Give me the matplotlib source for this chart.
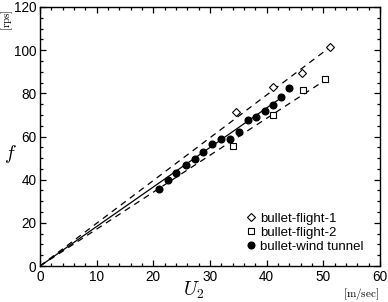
import numpy as np
import matplotlib.pyplot as plt

plt.rcParams['mathtext.fontset'] = 'cm'
plt.rcParams['font.family'] = ['Liberation Sans', 'DejaVu Sans']

# bullet-flight-1 (open diamonds)
u_flight1 = [34.6, 41.2, 46.3, 51.2]
f_flight1 = [71.5, 83.0, 89.3, 101.5]

# bullet-flight-2 (open squares)
u_flight2 = [34.1, 41.1, 46.4, 50.3]
f_flight2 = [55.8, 70.1, 81.4, 86.8]

# bullet-wind tunnel (filled circles)
u_tunnel = [21.0, 22.6, 24.1, 25.8, 27.4, 28.8, 30.4, 32.0, 33.5, 35.1, 36.8, 38.2, 39.7, 41.2, 42.5, 44.0]
f_tunnel = [35.8, 39.7, 43.1, 46.9, 49.7, 52.6, 56.7, 58.7, 58.7, 62.3, 67.5, 69.0, 72.0, 74.6, 78.3, 82.6]

# fitted lines through origin: (slope, end of line)
fit_flight1 = (1.98, 52.0)
fit_flight2 = (1.71, 51.0)
fit_tunnel = (1.83, 43.0)

fig = plt.figure(figsize=(3.88, 3.02), dpi=100)
ax = fig.add_axes([0.103, 0.119, 0.876, 0.858])

for slope, x_end, ls in [(fit_flight1[0], fit_flight1[1], (0, (5, 4))),
                         (fit_flight2[0], fit_flight2[1], (0, (5, 4))),
                         (fit_tunnel[0], fit_tunnel[1], '-')]:
    xx = np.array([0, x_end])
    ax.plot(xx, slope * xx, color='black', lw=0.9, linestyle=ls)

ax.plot(u_flight1, f_flight1, linestyle='none', marker='D', ms=4, mfc='white', mec='black', mew=0.8,
        label='bullet-flight-1')
ax.plot(u_flight2, f_flight2, linestyle='none', marker='s', ms=4.3, mfc='white', mec='black', mew=0.8,
        label='bullet-flight-2')
ax.plot(u_tunnel, f_tunnel, linestyle='none', marker='o', ms=4.8, mfc='black', mec='black',
        label='bullet-wind tunnel')

ax.set_xlim(0, 60)
ax.set_ylim(0, 120)
ax.set_xticks(np.arange(0, 61, 10))
ax.set_yticks(np.arange(0, 121, 20))
ax.set_xticks(np.arange(0, 61, 2), minor=True)
ax.set_yticks(np.arange(0, 121, 5), minor=True)
ax.tick_params(which='both', direction='in', top=True, right=True, labelsize=9.8, width=0.9, pad=2.5)
ax.tick_params(which='major', length=4)
ax.tick_params(which='minor', length=2)
for sp in ax.spines.values():
    sp.set_linewidth(1.0)

fig.text(0.027, 0.49, r'$f$', fontsize=14, ha='center', va='center')
fig.text(0.02, 0.935, r'$[\mathrm{rps}]$', fontsize=8, ha='center', va='center', rotation=90)
fig.text(0.5, 0.04, r'$U_2$', fontsize=14, ha='center', va='center')
fig.text(0.93, 0.028, r'$[\mathrm{m/sec}]$', fontsize=8, ha='center', va='center')

ax.legend(loc='lower right', bbox_to_anchor=(0.975, 0.02), frameon=False, fontsize=9.5,
          handletextpad=0.2, handlelength=1.0, labelspacing=0.15, borderaxespad=0.2)

fig.savefig('out.png', dpi=100)
